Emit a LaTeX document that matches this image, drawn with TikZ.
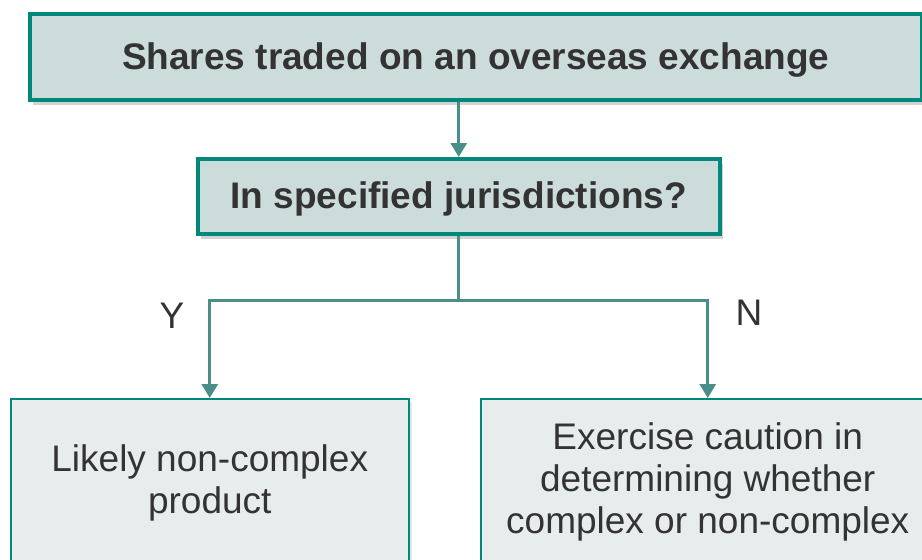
\documentclass[tikz,border=0pt]{standalone}
\usepackage{fontspec}
\setmainfont{Liberation Sans}
\definecolor{myteal}{RGB}{0,137,123}
\definecolor{myarrow}{RGB}{74,142,137}
\definecolor{myboxfill}{RGB}{204,220,219}
\definecolor{mypale}{RGB}{231,237,237}
\definecolor{mytext}{RGB}{51,51,51}
\usetikzlibrary{calc,positioning,shadows,arrows.meta}

\begin{document}
\begin{tikzpicture}[
  x=1pt, y=-1pt,
  mybox/.style={
    draw=myteal,
    line width=3.5pt,
    fill=myboxfill,
    text=mytext,
    font=\fontsize{37}{42}\selectfont\bfseries,
    anchor=north west,
    inner sep=0pt,
    text depth=2pt,
    drop shadow={opacity=0.35, shadow xshift=3pt, shadow yshift=-5pt}
    },
  myleaf/.style={
    draw=myteal,
    line width=1.5pt,
    fill=mypale,
    text=mytext,
    font=\fontsize{37}{42}\selectfont,
    align=center,
    anchor=north west,
    inner sep=0pt,
    drop shadow={opacity=0.2, shadow xshift=3pt, shadow yshift=-3pt}
    },
  myline/.style={
    draw=myarrow,
    line width=3pt
    },
  myarrow/.style={
    myline,
    -{Triangle[width=16pt,length=14pt]}
    },
  mylabel/.style={
    text=mytext,
    font=\fontsize{37}{42}\selectfont
    }
]
\useasboundingbox (0,0) rectangle (922,560);

\node[mybox, minimum width=892pt, minimum height=86pt] (shares) at (28,12)
  {Shares traded on an overseas exchange};
\node[mybox, minimum width=522pt, minimum height=75pt] (question) at (196,157)
  {In specified jurisdictions?};

\node[myleaf, minimum width=398pt, minimum height=168pt] (likely) at (10,398)
  {Likely non-complex\\product};
\node[myleaf, minimum width=454pt, minimum height=166pt] (caution) at (480,398)
  {Exercise caution in\\determining whether\\complex or non-complex};

% connectors
\draw[myarrow] (question.north |- shares.south) -- (question.north);
\coordinate (fork) at ($(question.south)+(0,65)$);
\draw[myline] (question.south) -- (fork);
\draw[myarrow] (fork) -| (likely.north);
\draw[myarrow] (fork) -| (caution.north);

\node[mylabel] (yes) at (172,316) {Y};
\node[mylabel] (no) at (749,313) {N};

\end{tikzpicture}
\end{document}
